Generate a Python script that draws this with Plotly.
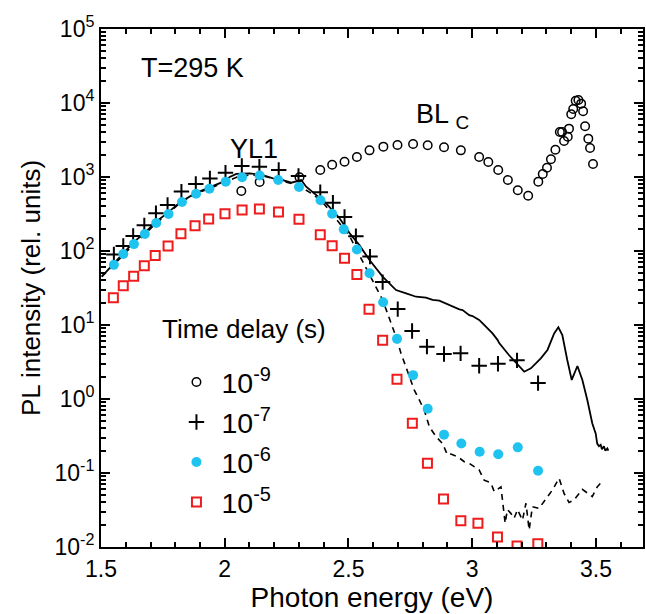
import plotly.graph_objects as go

# Photoluminescence spectra of GaN at room temperature for several time delays
# Time delay 1e-9 s (blue band BL_C and band edge)
e_1ns = [2.067, 2.141, 2.302, 2.386, 2.434, 2.484, 2.534, 2.585, 2.641, 2.698,
         2.761, 2.820, 2.886, 2.954, 3.028, 3.065, 3.105, 3.144, 3.184, 3.226,
         3.267, 3.285, 3.302, 3.318, 3.336, 3.354, 3.363, 3.371, 3.386, 3.391,
         3.400, 3.408, 3.418, 3.429, 3.440, 3.448, 3.456, 3.469, 3.476, 3.488]
i_1ns = [647, 856, 990, 1244, 1466, 1610, 1862, 2291, 2570, 2705,
         2790, 2680, 2517, 2291, 1862, 1595, 1244, 910, 661, 558,
         865, 1097, 1336, 1734, 2339, 4055, 4055, 3064, 3508, 4500,
         7030, 8300, 10730, 11000, 9800, 7730, 4840, 3297, 2466, 1500]

# Time delay 1e-7 s
e_100ns = [1.552, 1.590, 1.630, 1.675, 1.722, 1.769, 1.825, 1.883, 1.940, 2.003,
           2.069, 2.140, 2.218, 2.298, 2.386, 2.437, 2.484, 2.530, 2.587, 2.638,
           2.699, 2.757, 2.817, 2.886, 2.953, 3.028, 3.104, 3.181, 3.266]
i_100ns = [90, 117, 160, 222, 323, 418, 635, 804, 958, 1143,
           1409, 1380, 1244, 1032, 621, 450, 288, 158, 84, 38,
           16.4, 8.3, 5.1, 4.05, 4.14, 2.82, 3.0, 3.33, 1.64]

# Time delay 1e-6 s
e_1us = [1.552, 1.590, 1.633, 1.677, 1.723, 1.773, 1.827, 1.884, 1.938, 2.004,
         2.070, 2.141, 2.216, 2.300, 2.387, 2.434, 2.481, 2.534, 2.585, 2.640,
         2.696, 2.761, 2.820, 2.886, 2.956, 3.030, 3.105, 3.184, 3.266]
i_1us = [65, 91, 124, 170, 239, 316, 460, 595, 695, 865,
         990, 1050, 910, 733, 484, 319, 196, 105, 50, 20.3,
         6.5, 2.1, 0.74, 0.33, 0.25, 0.194, 0.179, 0.222, 0.107]

# Time delay 1e-5 s
e_10us = [1.550, 1.590, 1.632, 1.675, 1.719, 1.771, 1.823, 1.880, 1.935, 2.001,
          2.070, 2.140, 2.217, 2.300, 2.386, 2.434, 2.484, 2.534, 2.583, 2.638,
          2.696, 2.758, 2.819, 2.884, 2.954, 3.023, 3.102, 3.181, 3.265]
i_10us = [23.4, 34, 45.5, 63, 87, 117, 171, 220, 271, 319,
          358, 370, 336, 268, 166, 118, 80, 48, 16.3, 6.2,
          1.85, 0.47, 0.135, 0.0446, 0.0227, 0.0209, 0.0136, 0.0103, 0.0111]

# Continuous spectrum (solid curve)
e_solid = [1.503, 1.52, 1.55, 1.59, 1.63, 1.68, 1.72, 1.77, 1.82, 1.88,
           1.94, 2.00, 2.02, 2.047, 2.10, 2.154, 2.195, 2.235, 2.269, 2.289,
           2.309, 2.329, 2.369, 2.41, 2.464, 2.504, 2.544, 2.585, 2.638, 2.692,
           2.733, 2.773, 2.813, 2.84, 2.867, 2.907, 2.948, 2.961, 2.988, 3.001,
           3.028, 3.042, 3.069, 3.082, 3.102, 3.109, 3.149, 3.183, 3.21, 3.237,
           3.277, 3.304, 3.331, 3.348, 3.364, 3.384, 3.402, 3.425, 3.445, 3.465,
           3.485, 3.499, 3.505, 3.512, 3.519, 3.524, 3.532, 3.538, 3.546, 3.55]
i_solid = [45, 52, 66, 95, 130, 180, 245, 330, 455, 600,
           720, 880, 1000, 1100, 1122, 1064, 960, 910, 837, 880,
           910, 740, 571, 441, 277, 175, 120, 75.5, 45, 29.7,
           26.8, 24.1, 23.4, 21.8, 21.3, 18.6, 16.3, 15.9, 13.6, 13.2,
           11.7, 10.5, 8.6, 7.7, 6.3, 5.7, 3.9, 2.88, 2.34, 2.6,
           3.55, 4.6, 7.7, 9.3, 7.3, 3.37, 1.81, 2.79, 1.81, 0.97,
           0.47, 0.34, 0.25, 0.23, 0.24, 0.21, 0.23, 0.2, 0.215, 0.2]

# Continuous spectrum (dashed curve)
e_dash = [1.503, 1.55, 1.59, 1.63, 1.68, 1.72, 1.77, 1.82, 1.88, 1.94,
          2.00, 2.05, 2.10, 2.15, 2.20, 2.25, 2.30, 2.35, 2.39, 2.43,
          2.47, 2.504, 2.544, 2.598, 2.638, 2.665, 2.692, 2.712, 2.746, 2.766,
          2.786, 2.806, 2.827, 2.854, 2.88, 2.90, 2.914, 2.941, 2.968, 2.988,
          3.028, 3.048, 3.075, 3.089, 3.116, 3.122, 3.133, 3.142, 3.156, 3.169,
          3.183, 3.203, 3.217, 3.23, 3.243, 3.27, 3.297, 3.324, 3.351, 3.371,
          3.391, 3.411, 3.445, 3.465, 3.485, 3.505, 3.528]
i_dash = [45, 64, 88, 122, 170, 235, 315, 450, 590, 700,
          860, 1000, 1060, 1040, 950, 860, 760, 600, 480, 330,
          220, 160, 88, 40.5, 21.8, 12.3, 6.95, 4.15, 2.0, 1.32,
          0.97, 0.71, 0.42, 0.31, 0.25, 0.175, 0.18, 0.166, 0.142, 0.135,
          0.11, 0.08, 0.074, 0.056, 0.065, 0.043, 0.021, 0.032, 0.0285, 0.0244,
          0.032, 0.023, 0.039, 0.017, 0.035, 0.0333, 0.044, 0.059, 0.085, 0.053,
          0.040, 0.043, 0.060, 0.053, 0.048, 0.065, 0.079]

series_names = ["10<sup>-9</sup>", "10<sup>-7</sup>", "10<sup>-6</sup>", "10<sup>-5</sup>"]

y_tick_vals = [1e-2, 1e-1, 1e0, 1e1, 1e2, 1e3, 1e4, 1e5]
y_tick_text = ["10<sup>-2</sup>", "10<sup>-1</sup>", "10<sup>0</sup>", "10<sup>1</sup>",
               "10<sup>2</sup>", "10<sup>3</sup>", "10<sup>4</sup>", "10<sup>5</sup>"]
x_tick_vals = [1.5, 2, 2.5, 3, 3.5]
x_tick_text = ["1.5", "2", "2.5", "3", "3.5"]

FONT = "Arial, 'Liberation Sans', sans-serif"
BLUE = "#1ec3f0"
RED = "#ee1c1c"

fig = go.Figure()

fig.add_trace(go.Scatter(x=e_dash, y=i_dash, mode="lines", showlegend=False,
                         line=dict(color="black", width=1.6, dash="6px,5px")))
fig.add_trace(go.Scatter(x=e_solid, y=i_solid, mode="lines", showlegend=False,
                         line=dict(color="black", width=1.8)))

fig.add_trace(go.Scatter(x=e_1ns, y=i_1ns, mode="markers", name=series_names[0],
                         marker=dict(symbol="circle-open", size=8.5, color="black",
                                     line=dict(width=1.5, color="black"))))
fig.add_trace(go.Scatter(x=e_100ns, y=i_100ns, mode="markers", name=series_names[1],
                         marker=dict(symbol="cross-thin-open", size=11, color="black",
                                     line=dict(width=2, color="black"))))
fig.add_trace(go.Scatter(x=e_1us, y=i_1us, mode="markers", name=series_names[2],
                         marker=dict(symbol="circle", size=10, color=BLUE,
                                     line=dict(width=0))))
fig.add_trace(go.Scatter(x=e_10us, y=i_10us, mode="markers", name=series_names[3],
                         marker=dict(symbol="square-open", size=9, color=RED,
                                     line=dict(width=2, color=RED))))

minor_y = [m * 10.0 ** k for k in range(-2, 5) for m in range(2, 10)]

fig.update_layout(
    width=646, height=614,
    margin=dict(l=101, r=1, t=29, b=67),
    paper_bgcolor="white", plot_bgcolor="white",
    font=dict(family=FONT, size=23, color="black"),
    showlegend=True,
    legend=dict(x=0.13, y=0.367, xanchor="left", yanchor="top",
                bgcolor="rgba(0,0,0,0)", font=dict(size=28.5),
                itemwidth=40, tracegroupgap=0),
    xaxis=dict(range=[1.5, 3.69], showline=True, linecolor="black", linewidth=2,
               mirror="ticks", ticks="inside", ticklen=9, tickwidth=2,
               tickcolor="black", tickvals=x_tick_vals, ticktext=x_tick_text,
               showgrid=False, zeroline=False,
               minor=dict(dtick=0.1, ticks="inside", ticklen=5, tickwidth=1.5,
                          tickcolor="black", showgrid=False),
               title=dict(text="Photon energy (eV)", font=dict(size=28), standoff=4)),
    yaxis=dict(type="log", range=[-2, 5], showline=True, linecolor="black", linewidth=2,
               mirror="ticks", ticks="inside", ticklen=9, tickwidth=2,
               tickcolor="black", tickvals=y_tick_vals, ticktext=y_tick_text,
               showgrid=False, zeroline=False,
               minor=dict(tickvals=minor_y, ticks="inside", ticklen=5, tickwidth=1.5,
                          tickcolor="black", showgrid=False),
               title=dict(text="PL intensity (rel. units)", font=dict(size=26), standoff=6)),
    annotations=[
        dict(text="T=295 K", x=0.07, y=0.925, xref="paper", yref="paper",
             showarrow=False, xanchor="left", yanchor="middle", font=dict(size=27)),
        dict(text="YL1", x=2.12, y=3.15, xref="x", yref="y", showarrow=False,
             yanchor="bottom", font=dict(size=27)),
        dict(text="BL <sub>C</sub>", x=2.88, y=3.57, xref="x", yref="y", showarrow=False,
             yanchor="bottom", font=dict(size=27)),
        dict(text="Time delay (s)", x=0.108, y=0.42, xref="paper", yref="paper",
             showarrow=False, xanchor="left", yanchor="middle", font=dict(size=26)),
    ],
)

fig.write_html("out.html")
